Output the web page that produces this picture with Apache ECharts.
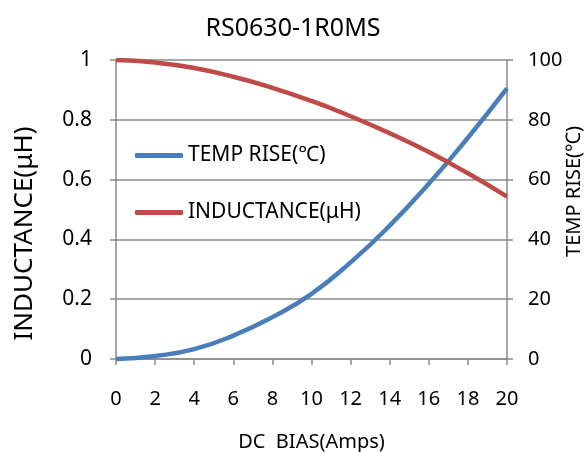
<!DOCTYPE html>
<html><head><meta charset="utf-8">
<script src="https://cdn.jsdelivr.net/npm/echarts@6/dist/echarts.min.js"></script>
<style>html,body{margin:0;padding:0;background:#fff}#c{width:586px;height:452px}</style>
</head><body><div id="c"></div>
<script>
const biasAmps = [0, 2, 4, 6, 8, 10, 12, 14, 16, 18, 20];
const tempRise = [0, 1.0, 3.3, 7.8, 14.0, 21.8, 32.3, 44.6, 58.6, 74.0, 90.5];
const inductance = [1.0, 0.992, 0.973, 0.944, 0.907, 0.863, 0.812, 0.755, 0.692, 0.621, 0.543];
const titleText = 'RS0630-1R0MS';
const xName = 'DC  BIAS(Amps)';
const leftName = 'INDUCTANCE(μH)';
const rightName = 'TEMP RISE(℃)';
const tempName = 'TEMP RISE(℃)';
const indName = 'INDUCTANCE(μH)';

const F = 'Noto Sans';
const grey = '#8a8a8a';
const chart = echarts.init(document.getElementById('c'), null, {renderer: 'canvas'});
chart.setOption({
  animation: false,
  backgroundColor: '#fff',
  textStyle: {fontFamily: F},
  title: {text: titleText, left: 'center', top: 11, textStyle: {fontFamily: F, fontSize: 25, fontWeight: 'normal', color: '#000'}},
  grid: {left: 116, right: 79, top: 60, bottom: 93, outerBoundsMode: 'none', containLabel: false},
  legend: {
    orient: 'vertical', left: 130, top: 140, itemWidth: 48, itemHeight: 5, itemGap: 36,
    icon: 'roundRect',
    textStyle: {fontFamily: F, fontSize: 21, color: '#000'},
    data: [tempName, indName]
  },
  xAxis: {
    type: 'value', min: 0, max: 20, interval: 2,
    name: xName, nameLocation: 'middle', nameGap: 73, nameMoveOverlap: false,
    nameTextStyle: {fontFamily: F, fontSize: 20, color: '#000'},
    axisLine: {show: true, lineStyle: {color: grey, width: 1.5}},
    axisTick: {show: true, length: 6, lineStyle: {color: grey, width: 1.5}},
    axisLabel: {fontFamily: F, fontSize: 20, color: '#000', margin: 30},
    splitLine: {show: false}
  },
  yAxis: [{
    type: 'value', min: 0, max: 1, interval: 0.2, position: 'left',
    name: leftName, nameLocation: 'middle', nameGap: 78, nameRotate: 90, nameMoveOverlap: false,
    nameTextStyle: {fontFamily: F, fontSize: 26, color: '#000', padding: [0, 48, 0, 0]},
    axisLine: {show: true, lineStyle: {color: grey, width: 1.5}},
    axisTick: {show: true, length: 6, lineStyle: {color: grey, width: 1.5}},
    axisLabel: {fontFamily: F, fontSize: 21, color: '#000', margin: 24},
    splitLine: {show: true, lineStyle: {color: grey, width: 1.5}}
  }, {
    type: 'value', min: 0, max: 100, interval: 20, position: 'right',
    name: rightName, nameLocation: 'middle', nameGap: 57, nameRotate: 90, nameMoveOverlap: false,
    nameTextStyle: {fontFamily: F, fontSize: 20, color: '#000', padding: [0, 0, 0, 36]},
    axisLine: {show: true, lineStyle: {color: grey, width: 1.5}},
    axisTick: {show: true, length: 6, lineStyle: {color: grey, width: 1.5}},
    axisLabel: {fontFamily: F, fontSize: 20, color: '#000', margin: 21},
    splitLine: {show: false}
  }],
  series: [{
    name: tempName, type: 'line', yAxisIndex: 1, smooth: true, showSymbol: false,
    data: biasAmps.map((x, i) => [x, tempRise[i]]),
    lineStyle: {color: '#4a7ebb', width: 4.5}, itemStyle: {color: '#4a7ebb'}
  }, {
    name: indName, type: 'line', yAxisIndex: 0, smooth: true, showSymbol: false,
    data: biasAmps.map((x, i) => [x, inductance[i]]),
    lineStyle: {color: '#be4b48', width: 4.5}, itemStyle: {color: '#be4b48'}
  }]
});
</script></body></html>
